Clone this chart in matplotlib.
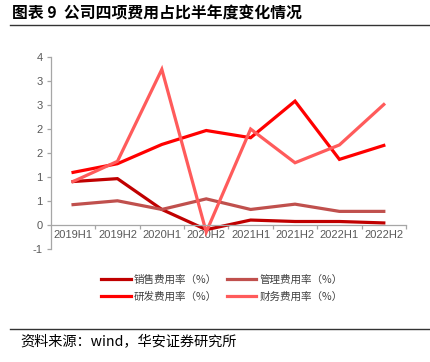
import matplotlib.pyplot as plt
from matplotlib.lines import Line2D

plt.rcParams['font.family'] = ['Liberation Sans', 'Noto Sans CJK SC', 'DejaVu Sans']

periods = ['2019H1', '2019H2', '2020H1', '2020H2', '2021H1', '2021H2', '2022H1', '2022H2']
sales = [0.91, 0.97, 0.33, -0.09, 0.11, 0.08, 0.08, 0.05]
admin = [0.43, 0.51, 0.33, 0.55, 0.33, 0.44, 0.29, 0.29]
rnd = [1.10, 1.28, 1.68, 1.97, 1.82, 2.58, 1.37, 1.66]
finance = [0.91, 1.33, 3.24, -0.14, 2.00, 1.30, 1.67, 2.51]

series_names = ['销售费用率（%）', '管理费用率（%）', '研发费用率（%）', '财务费用率（%）']
colors = ['#C00000', '#C0504D', '#FF0000', '#FF5B5B']

y_ticks = [-0.5, 0, 0.5, 1, 1.5, 2, 2.5, 3, 3.5]
y_labels = ['-1', '0', '1', '1', '2', '2', '3', '3', '4']

fig = plt.figure(figsize=(4.31, 3.62), dpi=100)
ax = fig.add_axes([0.118, 0.311, 0.824, 0.532])

x = list(range(len(periods)))
for data, c, name in zip([sales, admin, rnd, finance], colors, series_names):
    ax.plot(x, data, color=c, lw=2.3, label=name, solid_joinstyle='miter')

ax.set_xlim(-0.5, len(periods) - 0.5)
ax.set_ylim(-0.5, 3.5)
ax.set_yticks(y_ticks)
ax.set_yticklabels(y_labels)

ax.spines['top'].set_visible(False)
ax.spines['right'].set_visible(False)
ax.spines['bottom'].set_position(('data', 0))
for s in ['left', 'bottom']:
    ax.spines[s].set_color('#A6A6A6')
    ax.spines[s].set_linewidth(0.9)

ax.set_xticks(x)
ax.set_xticklabels(periods)
ax.set_xticks([i + 0.5 for i in x], minor=True)
ax.tick_params(axis='x', which='major', length=0, pad=3, labelsize=8, labelcolor='#595959')
ax.tick_params(axis='x', which='minor', length=3, color='#A6A6A6', width=0.9)
ax.tick_params(axis='y', length=3, color='#A6A6A6', width=0.9, labelsize=8, labelcolor='#595959', pad=3)

# title and rules
fig.text(0.028, 0.963, '图表 9  公司四项费用占比半年度变化情况', fontsize=11.4, fontweight='bold',
         family=['Noto Sans CJK SC', 'DejaVu Sans'], va='center', ha='left')
fig.add_artist(Line2D([0.023, 1.0], [0.931, 0.931], color='#333333', lw=1.0))
fig.add_artist(Line2D([0.023, 1.0], [0.091, 0.091], color='#333333', lw=1.0))
fig.text(0.046, 0.055, '资料来源：wind，华安证券研究所', fontsize=10.2,
         family=['Noto Sans CJK SC', 'DejaVu Sans'], va='center', ha='left')

handles, labels = ax.get_legend_handles_labels()
order = [0, 2, 1, 3]
leg = fig.legend([handles[i] for i in order], [labels[i] for i in order],
                 loc='center', bbox_to_anchor=(0.515, 0.204), ncol=2, frameon=False,
                 handlelength=2.8, handletextpad=0.3, columnspacing=0.9, labelspacing=0.6,
                 prop={'family': ['Noto Sans CJK SC', 'DejaVu Sans'], 'size': 7.6})
for t in leg.get_texts():
    t.set_color('#404040')

fig.savefig('out.png', dpi=100)
